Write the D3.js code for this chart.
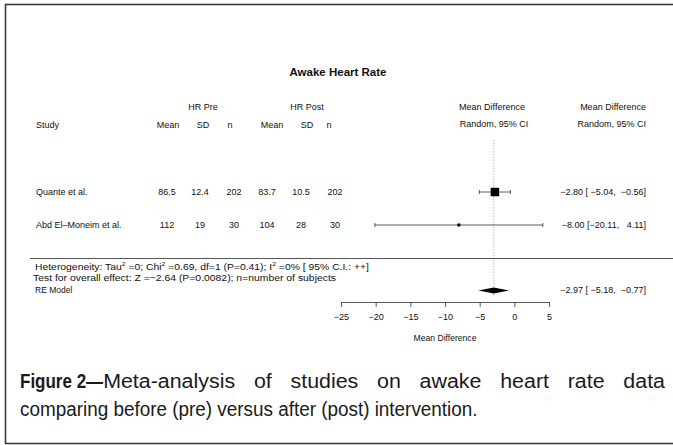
<!DOCTYPE html>
<html>
<head>
<meta charset="utf-8">
<script src="https://cdn.jsdelivr.net/npm/d3@7"></script>
<style>
  html, body { margin: 0; padding: 0; background: #fff; }
  svg { display: block; font-family: "Liberation Sans", Arial, Helvetica, sans-serif; }
  .pre { white-space: pre; }
</style>
</head>
<body>
<svg id="chart" width="673" height="445"></svg>
<script>
// ---- data ----
const studies   = ["Quante et al.", "Abd El\u2013Moneim et al."];
const preMean   = ["86.5", "112"];
const preSD     = ["12.4", "19"];
const preN      = ["202", "30"];
const postMean  = ["83.7", "104"];
const postSD    = ["10.5", "28"];
const postN     = ["202", "30"];
const meanDiff  = [-2.80, -8.00];
const ciLower   = [-5.04, -20.11];
const ciUpper   = [-0.56, 4.11];
const pooled    = { est: -2.97, lo: -5.18, hi: -0.77 };
const axisTicks = [-25, -20, -15, -10, -5, 0, 5];

const titleText = "Awake Heart Rate";
const hetText   = ["Heterogeneity: Tau", "2", " =0; Chi", "2", " =0.69, df=1 (P=0.41); I", "2", " =0% [ 95% C.I.: ++]"];
const testText  = "Test for overall effect: Z =\u22122.64 (P=0.0082); n=number of subjects";
const captionBold = "Figure 2\u2014";
const captionLine1 = "Meta-analysis of studies on awake heart rate data";
const captionLine2 = "comparing before (pre) versus after (post) intervention.";

// ---- drawing ----
const svg = d3.select("#chart");
const ink = "#111";

// outer frame
svg.append("rect")
  .attr("x", 5.5).attr("y", 4.5)
  .attr("width", 690).attr("height", 439)
  .attr("fill", "#fff").attr("stroke", "#3c3c3c").attr("stroke-width", 1.6);

const x = d3.scaleLinear().domain([-25, 5]).range([341, 549]);
const rowY = d3.scalePoint().domain(studies).range([192, 225]);
const f2 = d3.format(".2f");
const pad = (v, w) => f2(v).padStart(w, " ");
const ciLabel = (m, lo, hi) => `${f2(m)} [${pad(lo, 6)}, ${pad(hi, 6)}]`;

// study weights (inverse variance from the CI width) for marker size
const weights = studies.map((s, i) => {
  const se = (ciUpper[i] - ciLower[i]) / (2 * 1.96);
  return 1 / (se * se);
});
const boxSize = d3.scaleSqrt().domain([d3.min(weights), d3.max(weights)]).range([3, 8.5]);

const txt = (g, t, xx, yy, anchor, size, weight) =>
  g.append("text").attr("x", xx).attr("y", yy)
    .attr("text-anchor", anchor || "start")
    .attr("dominant-baseline", "central")
    .attr("font-size", size || 9)
    .attr("font-weight", weight || "normal")
    .attr("fill", ink)
    .attr("class", "pre")
    .text(t);

// title
txt(svg, titleText, 338, 72, "middle", 11.5, "bold");

// header rows
const hdr = svg.append("g");
txt(hdr, "HR Pre", 203, 107, "middle");
txt(hdr, "HR Post", 307, 107, "middle");
txt(hdr, "Study", 36, 125);
[["Mean", 168], ["SD", 203], ["n", 230], ["Mean", 272], ["SD", 307], ["n", 329]]
  .forEach(([t, xx]) => txt(hdr, t, xx, 125, "middle"));
txt(hdr, "Mean Difference", 492, 107, "middle");
txt(hdr, "Random, 95% CI", 494, 124, "middle");
txt(hdr, "Mean Difference", 646, 107, "end");
txt(hdr, "Random, 95% CI", 646, 124, "end");

// reference line at pooled estimate
svg.append("line")
  .attr("x1", x(pooled.est)).attr("x2", x(pooled.est))
  .attr("y1", 140).attr("y2", 296)
  .attr("stroke", "#9a9a9a").attr("stroke-width", 0.8)
  .attr("stroke-dasharray", "1.2,1.6");

// study rows
const cols = [
  [preMean, 167], [preSD, 200], [preN, 234],
  [postMean, 267], [postSD, 301], [postN, 335]
];
const rows = svg.append("g");
studies.forEach((s, i) => {
  const y = rowY(s);
  txt(rows, s, 36, y);
  cols.forEach(([arr, xx]) => txt(rows, arr[i], xx, y, "middle"));
  txt(rows, ciLabel(meanDiff[i], ciLower[i], ciUpper[i]), 646, y, "end");

  rows.append("line")
    .attr("x1", x(ciLower[i])).attr("x2", x(ciUpper[i]))
    .attr("y1", y).attr("y2", y)
    .attr("stroke", "#333").attr("stroke-width", 0.8);
  [ciLower[i], ciUpper[i]].forEach(v =>
    rows.append("line")
      .attr("x1", x(v)).attr("x2", x(v))
      .attr("y1", y - 2).attr("y2", y + 2)
      .attr("stroke", "#333").attr("stroke-width", 0.8));
  const b = boxSize(weights[i]);
  rows.append("rect")
    .attr("x", x(meanDiff[i]) - b / 2).attr("y", y - b / 2)
    .attr("width", b).attr("height", b)
    .attr("fill", "#000");
});

// separator above summary
svg.append("line")
  .attr("x1", 30).attr("x2", 673)
  .attr("y1", 258.5).attr("y2", 258.5)
  .attr("stroke", "#555").attr("stroke-width", 1.1);

// heterogeneity & test text (wide setting)
const het = svg.append("text")
  .attr("x", 35).attr("y", 267)
  .attr("dominant-baseline", "central")
  .attr("font-size", 9.2).attr("fill", ink)
  .attr("textLength", 334).attr("lengthAdjust", "spacingAndGlyphs");
hetText.forEach((t, i) => {
  const sup = (i % 2 === 1);
  het.append("tspan")
    .attr("font-size", sup ? 6 : 9.2)
    .attr("dy", sup ? -3.2 : (i > 0 ? 3.2 : 0))
    .text(t);
});
txt(svg, testText, 33, 278, "start", 9.2)
  .attr("textLength", 303).attr("lengthAdjust", "spacingAndGlyphs");
txt(svg, "RE Model", 35, 289.5, "start", 8.5);

// pooled diamond
const dy = 290.5;
svg.append("path")
  .attr("d", `M${x(pooled.lo)},${dy} L${x(pooled.est)},${dy - 3} L${x(pooled.hi)},${dy} L${x(pooled.est)},${dy + 3} Z`)
  .attr("fill", "#000");
txt(svg, ciLabel(pooled.est, pooled.lo, pooled.hi), 646, 290, "end");

// x axis
const axisG = svg.append("g")
  .attr("transform", "translate(0,302)")
  .call(d3.axisBottom(x).tickValues(axisTicks).tickSize(5).tickSizeOuter(0).tickPadding(7)
    .tickFormat(d => d3.format("d")(d)));
axisG.select(".domain").attr("stroke", "#333").attr("stroke-width", 0.8);
axisG.selectAll(".tick line").attr("stroke", "#333").attr("stroke-width", 0.8);
axisG.selectAll(".tick text")
  .attr("font-size", 9).attr("fill", ink)
  .attr("font-family", "Liberation Sans, Arial, sans-serif");
txt(svg, "Mean Difference", x(-10), 337.5, "middle", 8.6);

// caption: justified first line, ragged second line
const capSize = 20;
const squeezeBold = 0.85;
const squeezeReg = 1.07;
const squeezeLast = 0.945;
const capG = svg.append("g").attr("fill", "#1a1a1a");

const firstWord = captionLine1.split(" ")[0];
const boldNode = capG.append("text").attr("font-size", capSize)
  .attr("font-weight", "bold").text(captionBold);
const nodes = [capG.append("text").attr("font-size", capSize).text(firstWord)]
  .concat(captionLine1.split(" ").slice(1).map(t =>
    capG.append("text").attr("font-size", capSize).text(t)));
const boldW = boldNode.node().getComputedTextLength() * squeezeBold;
const widths = nodes.map(n => n.node().getComputedTextLength() * squeezeReg);
widths[0] += boldW;
const left = 20, right = 665;
const gap = (right - left - d3.sum(widths)) / (nodes.length - 1);
boldNode.attr("transform", `translate(${left},388) scale(${squeezeBold},1)`);
let cx = left;
nodes.forEach((n, i) => {
  const start = i === 0 ? cx + boldW : cx;
  n.attr("transform", `translate(${start},388) scale(${squeezeReg},1)`);
  cx += widths[i] + gap;
});
capG.append("text").attr("font-size", capSize).text(captionLine2)
  .attr("transform", `translate(20,416) scale(${squeezeLast},1)`);
</script>
</body>
</html>
